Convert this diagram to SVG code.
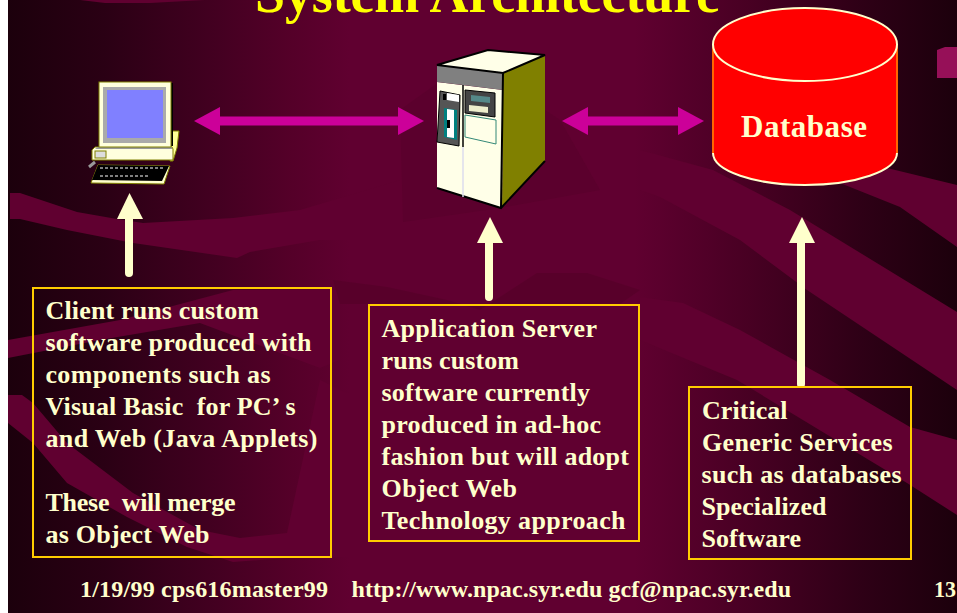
<svg xmlns="http://www.w3.org/2000/svg" width="957" height="613" viewBox="0 0 957 613">
<style>
text{font-family:"Liberation Serif","Times New Roman",serif;font-weight:bold}
.b{fill:#ffffcc;font-size:26px}
.f{fill:#ffffcc;font-size:24px}
.box{fill:none;stroke:#ffcc00;stroke-width:2}
.band{fill:#600030}
.patch{fill:#560029}
.lk{stroke:#cc0099;stroke-width:9;fill:none;marker-start:url(#ms);marker-end:url(#me)}
.up{stroke:#ffffcc;stroke-width:8;stroke-linecap:round;fill:none}
.head{fill:#ffffcc}
.k{stroke:#000;stroke-width:2;fill:none}
</style>
<defs>
<linearGradient id="bg" gradientUnits="userSpaceOnUse" x1="8" x2="957" y1="0" y2="0">
<stop offset="0" stop-color="#1c000c"/><stop offset="0.1" stop-color="#2a0014"/><stop offset="0.2" stop-color="#3f001f"/><stop offset="0.3" stop-color="#550029"/><stop offset="0.36" stop-color="#600030"/><stop offset="0.66" stop-color="#600030"/><stop offset="0.78" stop-color="#480023"/><stop offset="0.9" stop-color="#2e0016"/><stop offset="1" stop-color="#1c000c"/>
</linearGradient>
<marker id="me" markerUnits="userSpaceOnUse" markerWidth="26" markerHeight="28" refX="2" refY="14" orient="auto"><path d="M0 0L26 14L0 28Z" fill="#cc0099"/></marker>
<marker id="ms" markerUnits="userSpaceOnUse" markerWidth="26" markerHeight="28" refX="24" refY="14" orient="auto"><path d="M26 0L0 14L26 28Z" fill="#cc0099"/></marker>
</defs>
<rect width="957" height="613" fill="#fff"/>
<rect x="8" width="949" height="613" fill="url(#bg)"/>
<g id="background">
<path class="band" d="M80 0H205L150 3H105Z"/>
<path class="band" d="M10 193H20L47 202L77 212L117 219L143 223L233 218L300 210L400 180L400 240L320 240L250 252L237 258L133 243L67 230L20 219H10Z"/>
<path class="band" d="M8 340L120 320L233 290L340 290V360L320 368L200 323L100 340L8 358Z"/>
<path class="band" d="M8 395H22L33 403L67 443L133 493L200 530L240 538L287 533L307 440L320 380L360 400V557H300L233 562L187 547L127 517L67 483L33 443L8 423Z"/>
<path class="band" d="M800 165L887 168L957 185V247L900 207L840 183Z"/>
<path class="band" d="M640 150L713 170L790 210L957 312V390L807 290L740 240L660 197L640 190Z"/>
<path class="band" d="M640 297L683 303L740 330L830 380L910 427L957 440V515L907 483L737 380L640 340Z"/>
<path class="patch" d="M403 222L500 208L600 190L560 120L470 60L400 110Z" opacity="0.5"/>
<path class="patch" d="M333 280L387 287L447 300L480 310L537 273H587L640 290L620 304H340Z" opacity="0.8"/>
<path d="M937 50L945 47H957V78H937Z" fill="#961058"/>
</g>
<text x="255" y="12" font-size="54" fill="#ffff00" textLength="465" lengthAdjust="spacing">System Architecture</text>
<g id="client">
<path d="M89 167L95 162" stroke="#999" stroke-width="3"/>
<path d="M98 165L170 166L164 184L91 183Z" fill="#ffffcc" stroke="#808000"/>
<path d="M98 165L169 166L162 181L92 180Z" fill="#000"/>
<path d="M100 168H165M100 176H150" stroke="#fff" stroke-width="1" stroke-dasharray="3 2"/>
<path d="M172 131H179L177 148L173 161H170Z" fill="#ffff99" stroke="#808000"/>
<path d="M95 147H172L173 149V160H92V150Z" fill="#ffffdd" stroke="#808000"/>
<path d="M98 147H172V149H95Z" fill="#999"/>
<rect x="95" y="151" width="11" height="7" fill="#ddd" stroke="#808000"/>
<path d="M172 83V146" stroke="#000" stroke-width="2"/>
<rect x="99" y="82" width="72" height="65" fill="#ffffdd" stroke="#808000" stroke-width="1"/>
<rect x="103" y="87" width="63" height="56" fill="#aaa"/>
<rect x="107" y="90" width="56" height="48" fill="#8080ff"/>
</g>
<g id="server">
<path d="M437 65L488 50L545 55L503 73Z" fill="#ffffe8"/>
<path d="M503 73L545 55V162L502 208Z" fill="#808000"/>
<path d="M437 82V188L502 208L503 90Z" fill="#ffffe8"/>
<path d="M437 65L503 73V90L463 85L437 82Z" fill="#808080"/>
<path d="M437 65L488 50L545 55L503 73ZM503 73L501 208M437 188L501 208L545 161" class="k"/>
<path d="M463 85V147" stroke="#000" stroke-width="1.500"/>
<path d="M463 147V197" stroke="#dde" stroke-width="1.500"/>
<path d="M440 91L460 95L459 146L437 142Z" fill="#555" stroke="#000"/>
<path d="M444 108L457 110V140L444 137Z" fill="#008080"/>
<path d="M447 109L454 110V138L447 137Z" fill="#fff"/>
<path d="M447 120L450 120V128L447 128Z" fill="#000"/>
<path d="M447 93L459 95V102L447 100Z" fill="#fff"/>
<rect x="443" y="94" width="3" height="6" fill="#000"/>
<path d="M465 90L495 93V117L465 113Z" fill="#444" stroke="#000"/>
<path d="M471 95L490 97V103L471 101Z" fill="#558888"/>
<path d="M469 105L488 107V113L469 111Z" fill="#eeeecc"/>
<path d="M465 115L496 120V144L465 137Z" fill="#ffffe8" stroke="#338877"/>
</g>
<g id="database">
<path d="M713 44V153C713 171 755 185 805 185C855 185 897 171 897 153V44Z" fill="#ff0000"/>
<path d="M713 44V153M897 44V153" stroke="#ff6600" stroke-width="2" fill="none"/>
<path d="M713 153C713 171 755 185 805 185C855 185 897 171 897 153" stroke="#ffffcc" stroke-width="2" fill="none"/>
<ellipse cx="805" cy="44.500" rx="92" ry="36.500" fill="#ff0000" stroke="#ffffcc" stroke-width="2"/>
<text x="741" y="137" font-size="31" fill="#ffffcc" textLength="126" lengthAdjust="spacing">Database</text>
</g>
<g id="connectors">
<path class="lk" d="M218 121H400"/>
<path class="lk" d="M586 121H680"/>
<path class="up" d="M129 218V273"/>
<path class="head" d="M129.500 193L117 219H143Z"/>
<path class="up" d="M489 242V297"/>
<path class="head" d="M490 217L477 243H503Z"/>
<path class="up" d="M801 242V384"/>
<path class="head" d="M802 217L789 243H815Z"/>
</g>
<g id="client-note">
<rect class="box" x="33" y="288" width="298" height="269"/>
<text class="b" x="45.500" y="319" textLength="213.500">Client runs custom</text>
<text class="b" x="45.500" y="351" textLength="266">software produced with</text>
<text class="b" x="45.500" y="383" textLength="225">components such as</text>
<text class="b" x="45.500" y="415" textLength="250" xml:space="preserve">Visual Basic  for PC’ s</text>
<text class="b" x="45.500" y="447" textLength="272">and Web (Java Applets)</text>
<text class="b" x="45.500" y="511" textLength="190" xml:space="preserve">These  will merge</text>
<text class="b" x="45.500" y="543" textLength="164">as Object Web</text>
</g>
<g id="server-note">
<rect class="box" x="369" y="305" width="270" height="236"/>
<text class="b" x="381.500" y="337" textLength="215.500">Application Server</text>
<text class="b" x="381.500" y="369" textLength="137.500">runs custom</text>
<text class="b" x="381.500" y="401" textLength="208.500">software currently</text>
<text class="b" x="381.500" y="433" textLength="219.500">produced in ad-hoc</text>
<text class="b" x="381.500" y="465" textLength="247.500">fashion but will adopt</text>
<text class="b" x="381.500" y="497" textLength="135.500">Object Web</text>
<text class="b" x="381.500" y="529" textLength="244">Technology approach</text>
</g>
<g id="database-note">
<rect class="box" x="689" y="387" width="222" height="172"/>
<text class="b" x="702" y="419" textLength="85.500">Critical</text>
<text class="b" x="702" y="451" textLength="190.500">Generic Services</text>
<text class="b" x="701.500" y="483" textLength="200">such as databases</text>
<text class="b" x="701.500" y="515" textLength="125">Specialized</text>
<text class="b" x="701.500" y="547" textLength="99.500">Software</text>
</g>
<g id="footer">
<text class="f" x="80" y="597" textLength="248">1/19/99 cps616master99</text>
<text class="f" x="351.500" y="597" textLength="439.500">http://www.npac.syr.edu gcf@npac.syr.edu</text>
<text class="f" x="934" y="597" textLength="22" lengthAdjust="spacingAndGlyphs">13</text>
</g>
</svg>
